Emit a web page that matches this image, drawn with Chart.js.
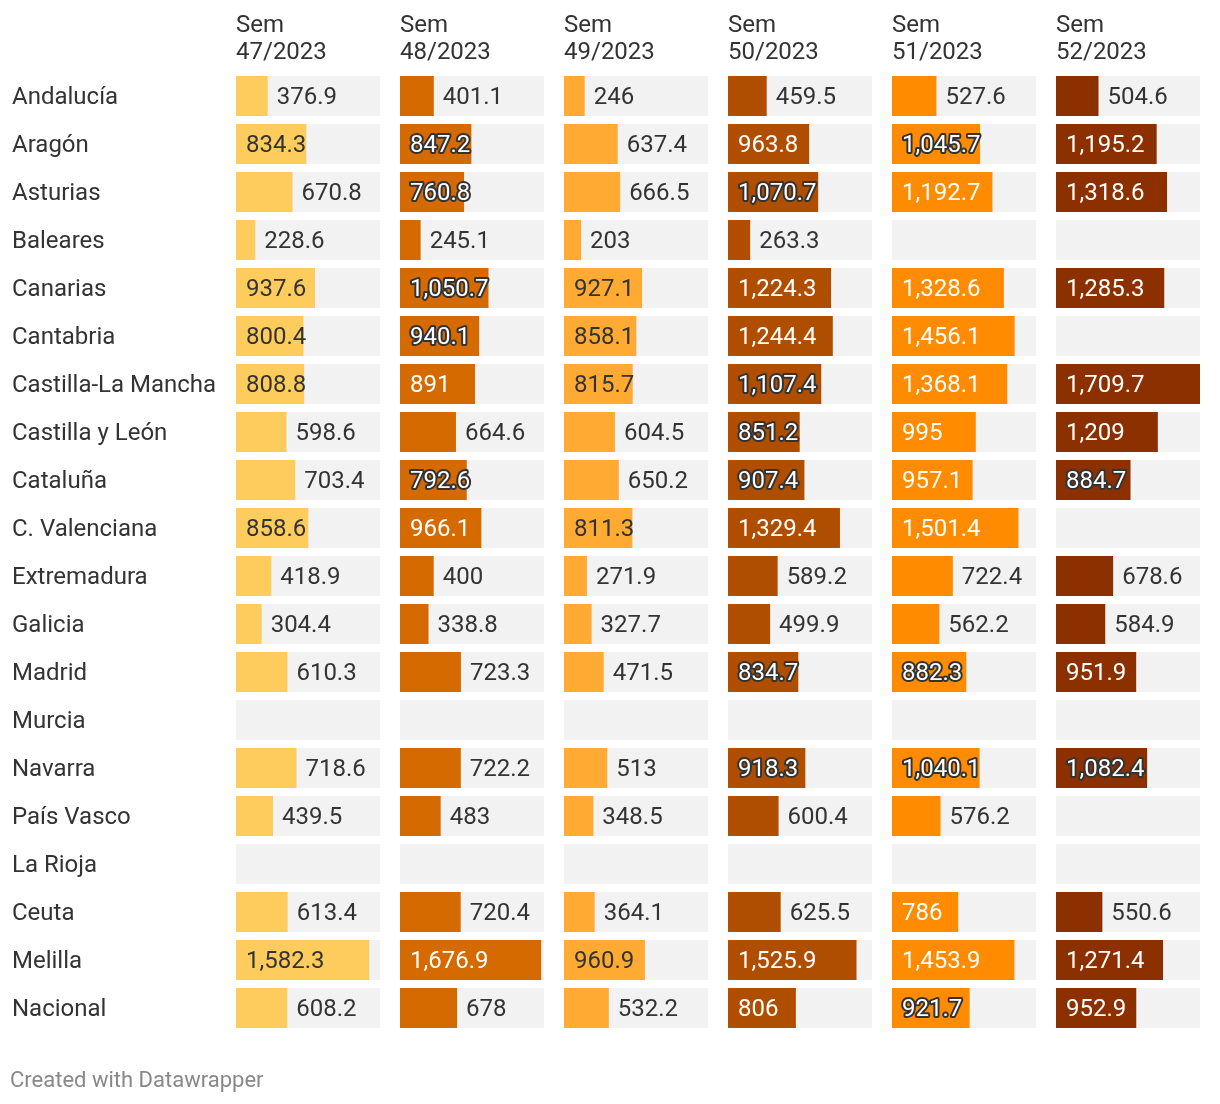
<!DOCTYPE html>
<html>
<head>
<meta charset="utf-8">
<script src="https://cdn.jsdelivr.net/npm/chart.js@4.4.1/dist/chart.umd.min.js"></script>
<style>
html,body{margin:0;padding:0;background:#fff;}
#wrap{position:relative;width:1220px;height:1104px;}
#footer{position:absolute;left:10px;top:1067px;font:22px Roboto, sans-serif;color:#888;white-space:nowrap;}
</style>
</head>
<body>
<div id="wrap">
<canvas id="c" width="1220" height="1104"></canvas>
<div id="footer">Created with Datawrapper</div>
</div>
<script>
const regions = ['Andalucía','Aragón','Asturias','Baleares','Canarias','Cantabria','Castilla-La Mancha','Castilla y León','Cataluña','C. Valenciana','Extremadura','Galicia','Madrid','Murcia','Navarra','País Vasco','La Rioja','Ceuta','Melilla','Nacional'];
const weeks = ['Sem 47/2023','Sem 48/2023','Sem 49/2023','Sem 50/2023','Sem 51/2023','Sem 52/2023'];
const sem47 = [376.9, 834.3, 670.8, 228.6, 937.6, 800.4, 808.8, 598.6, 703.4, 858.6, 418.9, 304.4, 610.3, null, 718.6, 439.5, null, 613.4, 1582.3, 608.2];
const sem48 = [401.1, 847.2, 760.8, 245.1, 1050.7, 940.1, 891, 664.6, 792.6, 966.1, 400, 338.8, 723.3, null, 722.2, 483, null, 720.4, 1676.9, 678];
const sem49 = [246, 637.4, 666.5, 203, 927.1, 858.1, 815.7, 604.5, 650.2, 811.3, 271.9, 327.7, 471.5, null, 513, 348.5, null, 364.1, 960.9, 532.2];
const sem50 = [459.5, 963.8, 1070.7, 263.3, 1224.3, 1244.4, 1107.4, 851.2, 907.4, 1329.4, 589.2, 499.9, 834.7, null, 918.3, 600.4, null, 625.5, 1525.9, 806];
const sem51 = [527.6, 1045.7, 1192.7, null, 1328.6, 1456.1, 1368.1, 995, 957.1, 1501.4, 722.4, 562.2, 882.3, null, 1040.1, 576.2, null, 786, 1453.9, 921.7];
const sem52 = [504.6, 1195.2, 1318.6, null, 1285.3, null, 1709.7, 1209, 884.7, null, 678.6, 584.9, 951.9, null, 1082.4, null, null, 550.6, 1271.4, 952.9];

const series = [sem47, sem48, sem49, sem50, sem51, sem52];
const colors = ['#fecc5c', '#d46a00', '#feaa33', '#b04e00', '#fe8b00', '#8c3000'];
const darkText = [true, false, true, false, false, false];

const FONT = 'Roboto, "Noto Sans", sans-serif';
const FS = 24;
const TEXT = '#333333';
const BAR_W = 144, COL_PITCH = 164;

const maxVal = Math.max(...series.flat().filter(v => v != null));
const axisMax = maxVal * COL_PITCH / BAR_W;
const bgData = regions.map(() => maxVal);

const fmt = v => v.toLocaleString('en-US', {maximumFractionDigits: 1});

const datasets = [];
const scales = {
  y: {
    type: 'category',
    position: 'left',
    grid: {display: false, drawTicks: false},
    border: {display: false},
    ticks: {crossAlign: 'far', color: TEXT, font: {family: FONT, size: FS}, padding: 0, labelOffset: 2},
    afterFit(s) { s.width = 224; }
  }
};
series.forEach((vals, i) => {
  const id = 'x' + i;
  scales[id] = {
    type: 'linear',
    position: 'top',
    stack: 'cols',
    stackWeight: 1,
    weight: series.length - i,
    min: 0,
    max: axisMax,
    grid: {display: false, drawTicks: false},
    border: {display: false},
    ticks: {display: false},
    title: {
      display: true,
      text: weeks[i].split(' '),
      align: 'start',
      color: TEXT,
      font: {family: FONT, size: FS, lineHeight: 1.15},
      padding: {top: 12, bottom: 0}
    },
    afterFit(s) { s.height = 72; }
  };
  datasets.push({
    label: weeks[i] + ' bg', data: bgData, xAxisID: id, yAxisID: 'y',
    backgroundColor: '#f2f2f2', grouped: false, order: 2, isValue: false,
    categoryPercentage: 1, barPercentage: 40 / 48
  });
  datasets.push({
    label: weeks[i], data: vals, xAxisID: id, yAxisID: 'y',
    backgroundColor: colors[i], grouped: false, order: 1, isValue: true, col: i,
    categoryPercentage: 1, barPercentage: 40 / 48
  });
});

const labelPlugin = {
  id: 'barLabels',
  afterDatasetsDraw(chart) {
    const ctx = chart.ctx;
    ctx.save();
    ctx.font = FS + 'px ' + FONT;
    ctx.textBaseline = 'middle';
    ctx.textAlign = 'left';
    ctx.lineJoin = 'round';
    chart.data.datasets.forEach((ds, di) => {
      if (!ds.isValue) return;
      const meta = chart.getDatasetMeta(di);
      const sc = chart.scales[ds.xAxisID];
      meta.data.forEach((el, i) => {
        const v = ds.data[i];
        if (v == null) return;
        const txt = fmt(v);
        const w = ctx.measureText(txt).width;
        const base = sc.getPixelForValue(0);
        const end = sc.getPixelForValue(v);
        const full = sc.getPixelForValue(maxVal);
        const barW = end - base;
        const rest = full - end;
        const y = el.y + 2;
        if (barW - w >= 19.5) {
          ctx.fillStyle = darkText[ds.col] ? TEXT : '#ffffff';
          ctx.fillText(txt, base + 10, y);
        } else if (rest - w >= 21) {
          ctx.fillStyle = TEXT;
          ctx.fillText(txt, end + 9, y);
        } else if (darkText[ds.col]) {
          ctx.fillStyle = TEXT;
          ctx.fillText(txt, base + 10, y);
        } else {
          ctx.lineWidth = 4;
          ctx.strokeStyle = '#333333';
          ctx.strokeText(txt, base + 10, y);
          ctx.fillStyle = '#ffffff';
          ctx.fillText(txt, base + 10, y);
        }
      });
    });
    ctx.restore();
  }
};

new Chart(document.getElementById('c'), {
  type: 'bar',
  data: {labels: regions, datasets},
  options: {
    indexAxis: 'y',
    responsive: false,
    animation: false,
    devicePixelRatio: 1,
    layout: {padding: {left: 12, top: 0, right: 0, bottom: 72}},
    plugins: {legend: {display: false}, tooltip: {enabled: false}},
    scales
  },
  plugins: [labelPlugin]
});
</script>
</body>
</html>
